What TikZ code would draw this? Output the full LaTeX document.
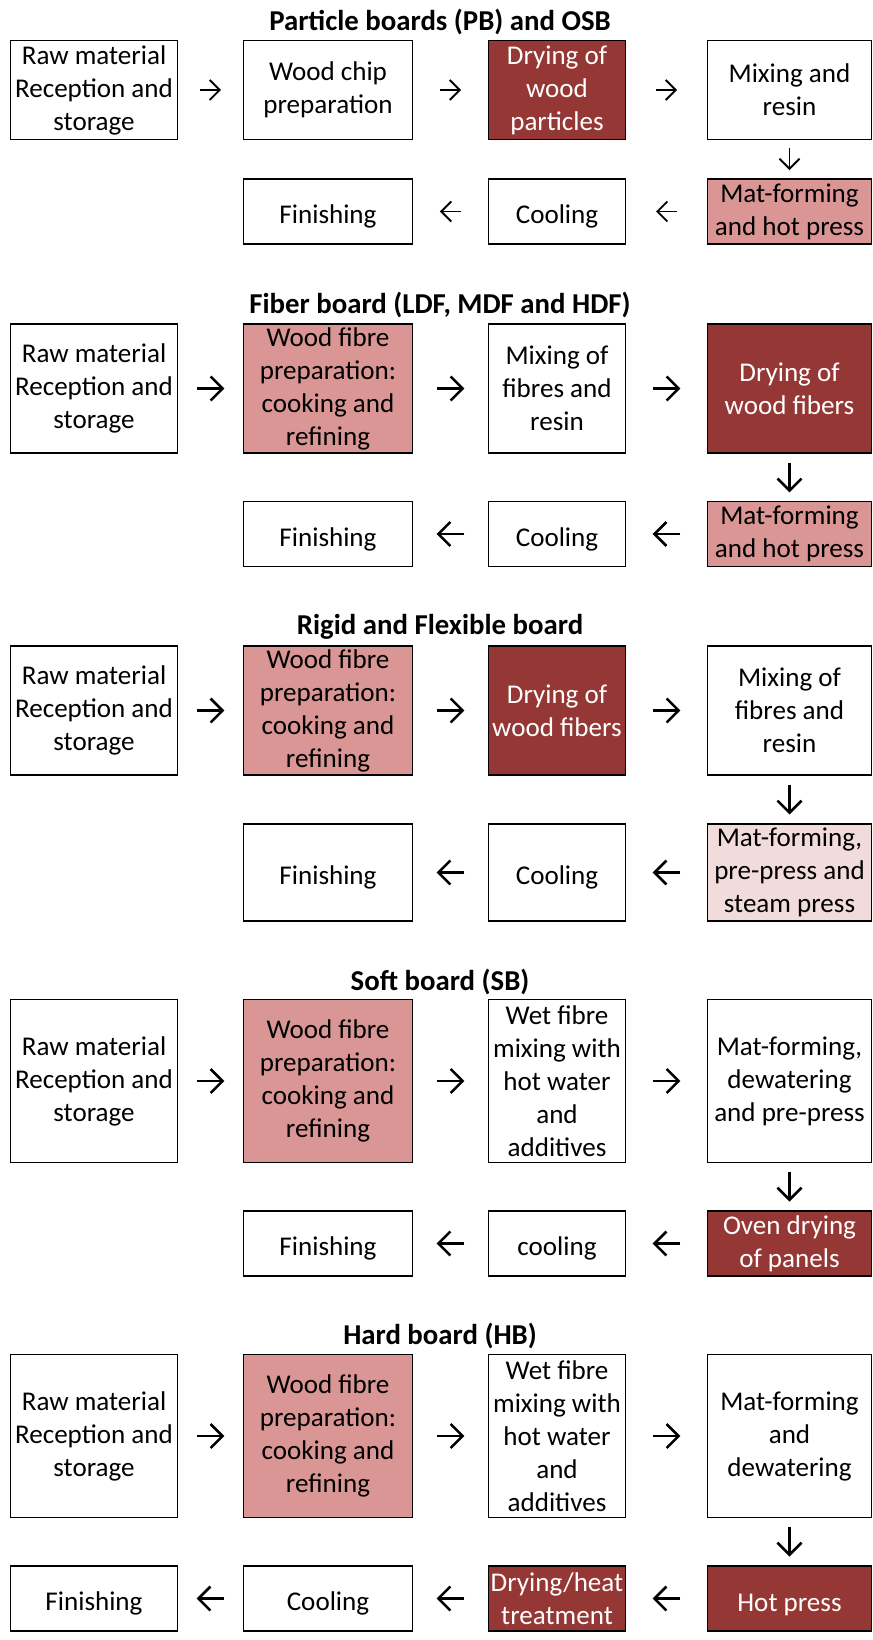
\documentclass[tikz,border=0pt]{standalone}
\usepackage{fontspec}
\setmainfont{Carlito}
\usetikzlibrary{arrows.meta}
\definecolor{darkred}{HTML}{953735}
\definecolor{midpink}{HTML}{D99694}
\definecolor{palepink}{HTML}{F2DCDB}
\newcommand{\boxfont}{\fontsize{20.3}{24.75}\selectfont}
\newcommand{\titlefont}{\fontsize{21.6}{26}\selectfont\bfseries}

\begin{document}
\begin{tikzpicture}[x=0.75pt,y=-0.75pt,
    box/.style={draw=black,line width=1.2pt,fill=white,align=center,inner sep=0pt,font=\boxfont,
      execute at begin node={\rule{0pt}{22pt}}},
    dark/.style={box,fill=darkred,text=white},
    mid/.style={box,fill=midpink},
    pale/.style={box,fill=palepink},
    colA/.style={minimum width=125pt},
    colB/.style={minimum width=126.5pt},
    colC/.style={minimum width=102.5pt},
    colD/.style={minimum width=122.75pt},
    title/.style={font=\titlefont},
    smallarr/.style={-{Straight Barb[length=7.5pt,width=15pt]},line width=1.4pt},
    bigarr/.style={-{Straight Barb[length=9pt,width=18pt]},line width=1.9pt},
    short/.style={shorten <=#1,shorten >=#1}]
    \useasboundingbox (0,0) rectangle (873,1640);

    % Particle boards
    \node[title] (t1) at (440,22) {Particle boards (PB) and OSB};
    \node[box,colA,minimum height=74pt] (praw) at (94,90) {Raw material\\Reception and\\storage};
    \node[box,colB,minimum height=74pt] (pchip) at (328,90) {Wood chip\\preparation};
    \node[dark,colC,minimum height=74pt] (pdry) at (557,90) {Drying of\\wood\\particles};
    \node[box,colD,minimum height=74pt] (pmix) at (789.5,90) {Mixing and\\resin};
    \node[mid,colD,minimum height=49pt] (ppress) at (789.5,211.5) {Mat-forming\\and hot press};
    \node[box,colC,minimum height=49pt] (pcool) at (557,211.5) {Cooling};
    \node[box,colB,minimum height=49pt] (pfin) at (328,211.5) {Finishing};
    \draw[smallarr,short=16.4pt] (praw) -- (pchip);
    \draw[smallarr,short=20.1pt] (pchip) -- (pdry);
    \draw[smallarr,short=22.4pt] (pdry) -- (pmix);
    \draw[smallarr,short=6pt] (pmix) -- (ppress);
    \draw[smallarr,short=22.4pt] (ppress) -- (pcool);
    \draw[smallarr,short=20.1pt] (pcool) -- (pfin);

    % Fiber board
    \node[title] (t2) at (440,305) {Fiber board (LDF, MDF and HDF)};
    \node[box,colA,minimum height=97pt] (fraw) at (94,388.5) {Raw material\\Reception and\\storage};
    \node[mid,colB,minimum height=97pt] (fprep) at (328,388.5) {Wood fibre\\preparation:\\cooking and\\refining};
    \node[box,colC,minimum height=97pt] (fmix) at (557,388.5) {Mixing of\\fibres and\\resin};
    \node[dark,colD,minimum height=97pt] (fdry) at (789.5,388.5) {Drying of\\wood fibers};
    \node[mid,colD,minimum height=48.5pt] (fpress) at (789.5,534) {Mat-forming\\and hot press};
    \node[box,colC,minimum height=48.5pt] (fcool) at (557,534) {Cooling};
    \node[box,colB,minimum height=48.5pt] (ffin) at (328,534) {Finishing};
    \draw[bigarr,short=13.9pt] (fraw) -- (fprep);
    \draw[bigarr,short=17.6pt] (fprep) -- (fmix);
    \draw[bigarr,short=19.9pt] (fmix) -- (fdry);
    \draw[bigarr,short=6.4pt] (fdry) -- (fpress);
    \draw[bigarr,short=19.9pt] (fpress) -- (fcool);
    \draw[bigarr,short=17.6pt] (fcool) -- (ffin);

    % Rigid and flexible board
    \node[title] (t3) at (440,627) {Rigid and Flexible board};
    \node[box,colA,minimum height=97pt] (rraw) at (94,710.5) {Raw material\\Reception and\\storage};
    \node[mid,colB,minimum height=97pt] (rprep) at (328,710.5) {Wood fibre\\preparation:\\cooking and\\refining};
    \node[dark,colC,minimum height=97pt] (rdry) at (557,710.5) {Drying of\\wood fibers};
    \node[box,colD,minimum height=97pt] (rmix) at (789.5,710.5) {Mixing of\\fibres and\\resin};
    \node[pale,colD,minimum height=73pt] (rpress) at (789.5,872.5) {Mat-forming,\\pre-press and\\steam press};
    \node[box,colC,minimum height=73pt] (rcool) at (557,872.5) {Cooling};
    \node[box,colB,minimum height=73pt] (rfin) at (328,872.5) {Finishing};
    \draw[bigarr,short=13.9pt] (rraw) -- (rprep);
    \draw[bigarr,short=17.6pt] (rprep) -- (rdry);
    \draw[bigarr,short=19.9pt] (rdry) -- (rmix);
    \draw[bigarr,short=6.4pt] (rmix) -- (rpress);
    \draw[bigarr,short=19.9pt] (rpress) -- (rcool);
    \draw[bigarr,short=17.6pt] (rcool) -- (rfin);

    % Soft board
    \node[title] (t4) at (440,982) {Soft board (SB)};
    \node[box,colA,minimum height=122pt] (sraw) at (94,1081) {Raw material\\Reception and\\storage};
    \node[mid,colB,minimum height=122pt] (sprep) at (328,1081) {Wood fibre\\preparation:\\cooking and\\refining};
    \node[box,colC,minimum height=122pt] (swet) at (557,1081) {Wet fibre\\mixing with\\hot water\\and\\additives};
    \node[box,colD,minimum height=122pt] (smat) at (789.5,1081) {Mat-forming,\\dewatering\\and pre-press};
    \node[dark,colD,minimum height=49pt] (soven) at (789.5,1243.5) {Oven drying\\of panels};
    \node[box,colC,minimum height=49pt] (scool) at (557,1243.5) {cooling};
    \node[box,colB,minimum height=49pt] (sfin) at (328,1243.5) {Finishing};
    \draw[bigarr,short=13.9pt] (sraw) -- (sprep);
    \draw[bigarr,short=17.6pt] (sprep) -- (swet);
    \draw[bigarr,short=19.9pt] (swet) -- (smat);
    \draw[bigarr,short=6.4pt] (smat) -- (soven);
    \draw[bigarr,short=19.9pt] (soven) -- (scool);
    \draw[bigarr,short=17.6pt] (scool) -- (sfin);

    % Hard board
    \node[title] (t5) at (440,1336) {Hard board (HB)};
    \node[box,colA,minimum height=122pt] (hraw) at (94,1436) {Raw material\\Reception and\\storage};
    \node[mid,colB,minimum height=122pt] (hprep) at (328,1436) {Wood fibre\\preparation:\\cooking and\\refining};
    \node[box,colC,minimum height=122pt] (hwet) at (557,1436) {Wet fibre\\mixing with\\hot water\\and\\additives};
    \node[box,colD,minimum height=122pt] (hmat) at (789.5,1436) {Mat-forming\\and\\dewatering};
    \node[dark,colD,minimum height=49pt] (hpress) at (789.5,1598.5) {Hot press};
    \node[dark,colC,minimum height=49pt] (hheat) at (557,1598.5) {Drying/heat\\treatment};
    \node[box,colB,minimum height=49pt] (hcool) at (328,1598.5) {Cooling};
    \node[box,colA,minimum height=49pt] (hfin) at (94,1598.5) {Finishing};
    \draw[bigarr,short=13.9pt] (hraw) -- (hprep);
    \draw[bigarr,short=17.6pt] (hprep) -- (hwet);
    \draw[bigarr,short=19.9pt] (hwet) -- (hmat);
    \draw[bigarr,short=6.4pt] (hmat) -- (hpress);
    \draw[bigarr,short=19.9pt] (hpress) -- (hheat);
    \draw[bigarr,short=17.6pt] (hheat) -- (hcool);
    \draw[bigarr,short=13.9pt] (hcool) -- (hfin);
\end{tikzpicture}
\end{document}
